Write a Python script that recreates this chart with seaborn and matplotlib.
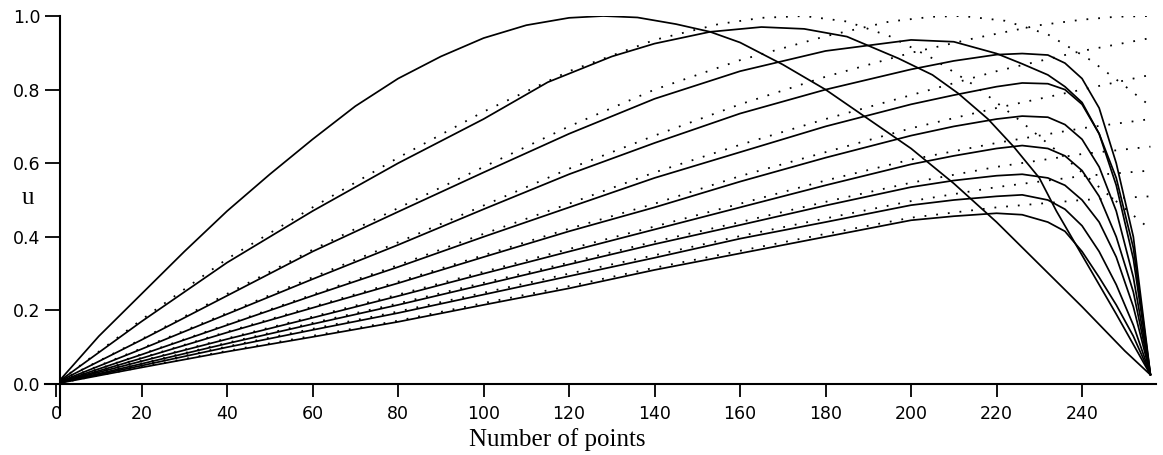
import matplotlib
matplotlib.use("Agg")
import matplotlib.pyplot as plt
import seaborn as sns

# ---------------- data ----------------
# solid curves
S1_x = [1, 10, 20, 30, 40, 50, 60, 70, 80, 90, 100, 110, 120, 128, 136, 145, 153, 160,
        170, 180, 190, 200, 210, 220, 230, 240, 250, 256]
S1_u = [0.012, 0.13, 0.245, 0.36, 0.47, 0.57, 0.665, 0.755, 0.83, 0.89, 0.94, 0.975, 0.995,
        1.0, 0.996, 0.978, 0.957, 0.928, 0.868, 0.80, 0.72, 0.64, 0.545, 0.44, 0.325, 0.21,
        0.09, 0.025]

S2_x = [1, 20, 40, 60, 80, 100, 115, 130, 140, 153, 165, 175, 185, 197, 205, 211, 218,
        224, 230, 234, 241, 248, 256]
S2_u = [0.01, 0.17, 0.33, 0.47, 0.60, 0.72, 0.82, 0.89, 0.925, 0.957, 0.97, 0.965, 0.944,
        0.885, 0.84, 0.79, 0.72, 0.645, 0.56, 0.47, 0.33, 0.19, 0.025]

XG = [1, 20, 40, 60, 80, 100, 120, 140, 160, 180, 200, 210, 220, 226, 232, 236, 240, 244,
      248, 252, 256]
S3_u = [0.009, 0.12, 0.24, 0.36, 0.468, 0.575, 0.68, 0.775, 0.85, 0.905, 0.935, 0.93,
        0.898, 0.87, 0.84, 0.808, 0.765, 0.68, 0.56, 0.37, 0.025]
S4_u = [0.007, 0.095, 0.19, 0.285, 0.378, 0.475, 0.57, 0.655, 0.735, 0.80, 0.855, 0.878,
        0.895, 0.898, 0.894, 0.872, 0.83, 0.75, 0.60, 0.40, 0.025]
S5_u = [0.006, 0.08, 0.16, 0.24, 0.318, 0.40, 0.48, 0.56, 0.63, 0.70, 0.76, 0.785, 0.808,
        0.818, 0.816, 0.80, 0.76, 0.68, 0.54, 0.34, 0.025]
S6_u = [0.005, 0.07, 0.14, 0.207, 0.274, 0.345, 0.415, 0.48, 0.55, 0.615, 0.675, 0.70,
        0.72, 0.728, 0.725, 0.705, 0.665, 0.59, 0.47, 0.29, 0.025]
S7_u = [0.005, 0.062, 0.122, 0.18, 0.239, 0.30, 0.36, 0.42, 0.48, 0.54, 0.597, 0.62, 0.64,
        0.648, 0.64, 0.62, 0.58, 0.51, 0.40, 0.25, 0.025]
S8_u = [0.004, 0.055, 0.11, 0.163, 0.215, 0.27, 0.325, 0.38, 0.432, 0.485, 0.535, 0.553,
        0.566, 0.57, 0.56, 0.54, 0.50, 0.44, 0.345, 0.21, 0.025]
S9_u = [0.004, 0.05, 0.10, 0.147, 0.193, 0.243, 0.293, 0.343, 0.395, 0.44, 0.486, 0.50,
        0.51, 0.514, 0.50, 0.475, 0.43, 0.36, 0.27, 0.16, 0.025]
S10_u = [0.003, 0.045, 0.088, 0.128, 0.169, 0.215, 0.26, 0.31, 0.355, 0.40, 0.445, 0.456,
         0.464, 0.46, 0.44, 0.415, 0.36, 0.29, 0.215, 0.13, 0.025]

# dotted curves
D2_x = [1, 20, 40, 60, 80, 100, 120, 140, 155, 165, 175, 185, 195, 205, 215, 225, 235, 245, 256]
D2_u = [0.01, 0.175, 0.34, 0.48, 0.615, 0.74, 0.85, 0.935, 0.978, 0.995, 1.0, 0.985, 0.945,
        0.885, 0.81, 0.72, 0.625, 0.525, 0.42]
D3_x = [1, 20, 40, 60, 80, 100, 120, 140, 160, 180, 195, 205, 212, 222, 232, 242, 250, 256]
D3_u = [0.009, 0.122, 0.245, 0.365, 0.478, 0.59, 0.70, 0.80, 0.88, 0.945, 0.985, 0.998, 1.0,
        0.987, 0.95, 0.88, 0.81, 0.755]
D4_x = [1, 20, 40, 60, 80, 100, 120, 140, 160, 180, 200, 215, 230, 240, 248, 256]
D4_u = [0.007, 0.097, 0.193, 0.29, 0.385, 0.485, 0.585, 0.675, 0.76, 0.835, 0.90, 0.94,
        0.975, 0.99, 0.998, 1.0]
XD = [1, 20, 40, 60, 80, 100, 120, 140, 160, 180, 200, 220, 240, 256]
D5_u = [0.006, 0.081, 0.162, 0.243, 0.323, 0.408, 0.49, 0.575, 0.65, 0.72, 0.785, 0.85, 0.905, 0.94]
D6_u = [0.005, 0.071, 0.142, 0.21, 0.278, 0.35, 0.422, 0.49, 0.565, 0.63, 0.695, 0.75, 0.80, 0.84]
D7_u = [0.005, 0.063, 0.124, 0.183, 0.243, 0.305, 0.367, 0.428, 0.49, 0.553, 0.61, 0.655, 0.695, 0.72]
D8_u = [0.004, 0.056, 0.112, 0.166, 0.219, 0.275, 0.33, 0.387, 0.44, 0.495, 0.547, 0.59, 0.625, 0.645]
D9_u = [0.004, 0.051, 0.102, 0.15, 0.197, 0.248, 0.30, 0.35, 0.402, 0.45, 0.497, 0.535, 0.565, 0.58]
D10_u = [0.003, 0.046, 0.09, 0.131, 0.172, 0.22, 0.266, 0.316, 0.362, 0.408, 0.452, 0.48, 0.50, 0.51]

x_ticks = [0, 20, 40, 60, 80, 100, 120, 140, 160, 180, 200, 220, 240]
x_ticklabels = ["0", "20", "40", "60", "80", "100", "120", "140", "160", "180", "200", "220", "240"]
y_ticks = [0.0, 0.2, 0.4, 0.6, 0.8, 1.0]
y_ticklabels = ["0.0", "0.2", "0.4", "0.6", "0.8", "1.0"]
x_label = "Number of points"
y_label = "u"

# ---------------- drawing ----------------
sns.set_style("white")
plt.rcParams["font.family"] = ["DejaVu Sans"]

W, H = 1163, 455
fig = plt.figure(figsize=(W / 100, H / 100), dpi=100)
ax = fig.add_axes([45 / W, 1 - 415.3 / H, (1156 - 45) / W, (415.3 - 16) / H])

dotted = [(D2_x, D2_u), (D3_x, D3_u), (D4_x, D4_u), (XD, D5_u), (XD, D6_u), (XD, D7_u),
          (XD, D8_u), (XD, D9_u), (XD, D10_u)]
for xs, us in dotted:
    sns.lineplot(x=xs, y=us, ax=ax, color="black", lw=1.3, linestyle=(0, (1, 5.5)),
                 sort=False, estimator=None, legend=False)

solid = [(S1_x, S1_u), (S2_x, S2_u), (XG, S3_u), (XG, S4_u), (XG, S5_u), (XG, S6_u),
         (XG, S7_u), (XG, S8_u), (XG, S9_u), (XG, S10_u)]
for xs, us in solid:
    sns.lineplot(x=xs, y=us, ax=ax, color="black", lw=1.25, sort=False, estimator=None,
                 legend=False)

ax.set_xlim(-2.6, 257.3)
ax.set_ylim(-0.085, 1.0)
ax.set_xlabel("")
ax.set_ylabel("")

for s in ("top", "right"):
    ax.spines[s].set_visible(False)
ax.spines["left"].set_position(("data", 1))
ax.spines["bottom"].set_position(("data", 0))
for s in ("left", "bottom"):
    ax.spines[s].set_color("black")
    ax.spines[s].set_linewidth(1.5)

ax.set_xticks(x_ticks)
ax.set_xticklabels(x_ticklabels)
ax.set_yticks(y_ticks)
ax.set_yticklabels(y_ticklabels)
ax.tick_params(axis="y", direction="out", length=10.8, width=1.3, pad=3.5,
               labelsize=12.5, colors="black", left=True)
ax.tick_params(axis="x", direction="out", length=9.4, width=1.3, pad=6,
               labelsize=12.5, colors="black", bottom=True)

fig.text(557 / W, 1 - 446 / H, x_label, ha="center", va="baseline",
         family="Liberation Serif", fontsize=18, color="black")
fig.text(28 / W, 1 - 204 / H, y_label, ha="center", va="baseline",
         family="Liberation Serif", fontsize=18, color="black")

fig.savefig("out.png", dpi=100, facecolor="white")
